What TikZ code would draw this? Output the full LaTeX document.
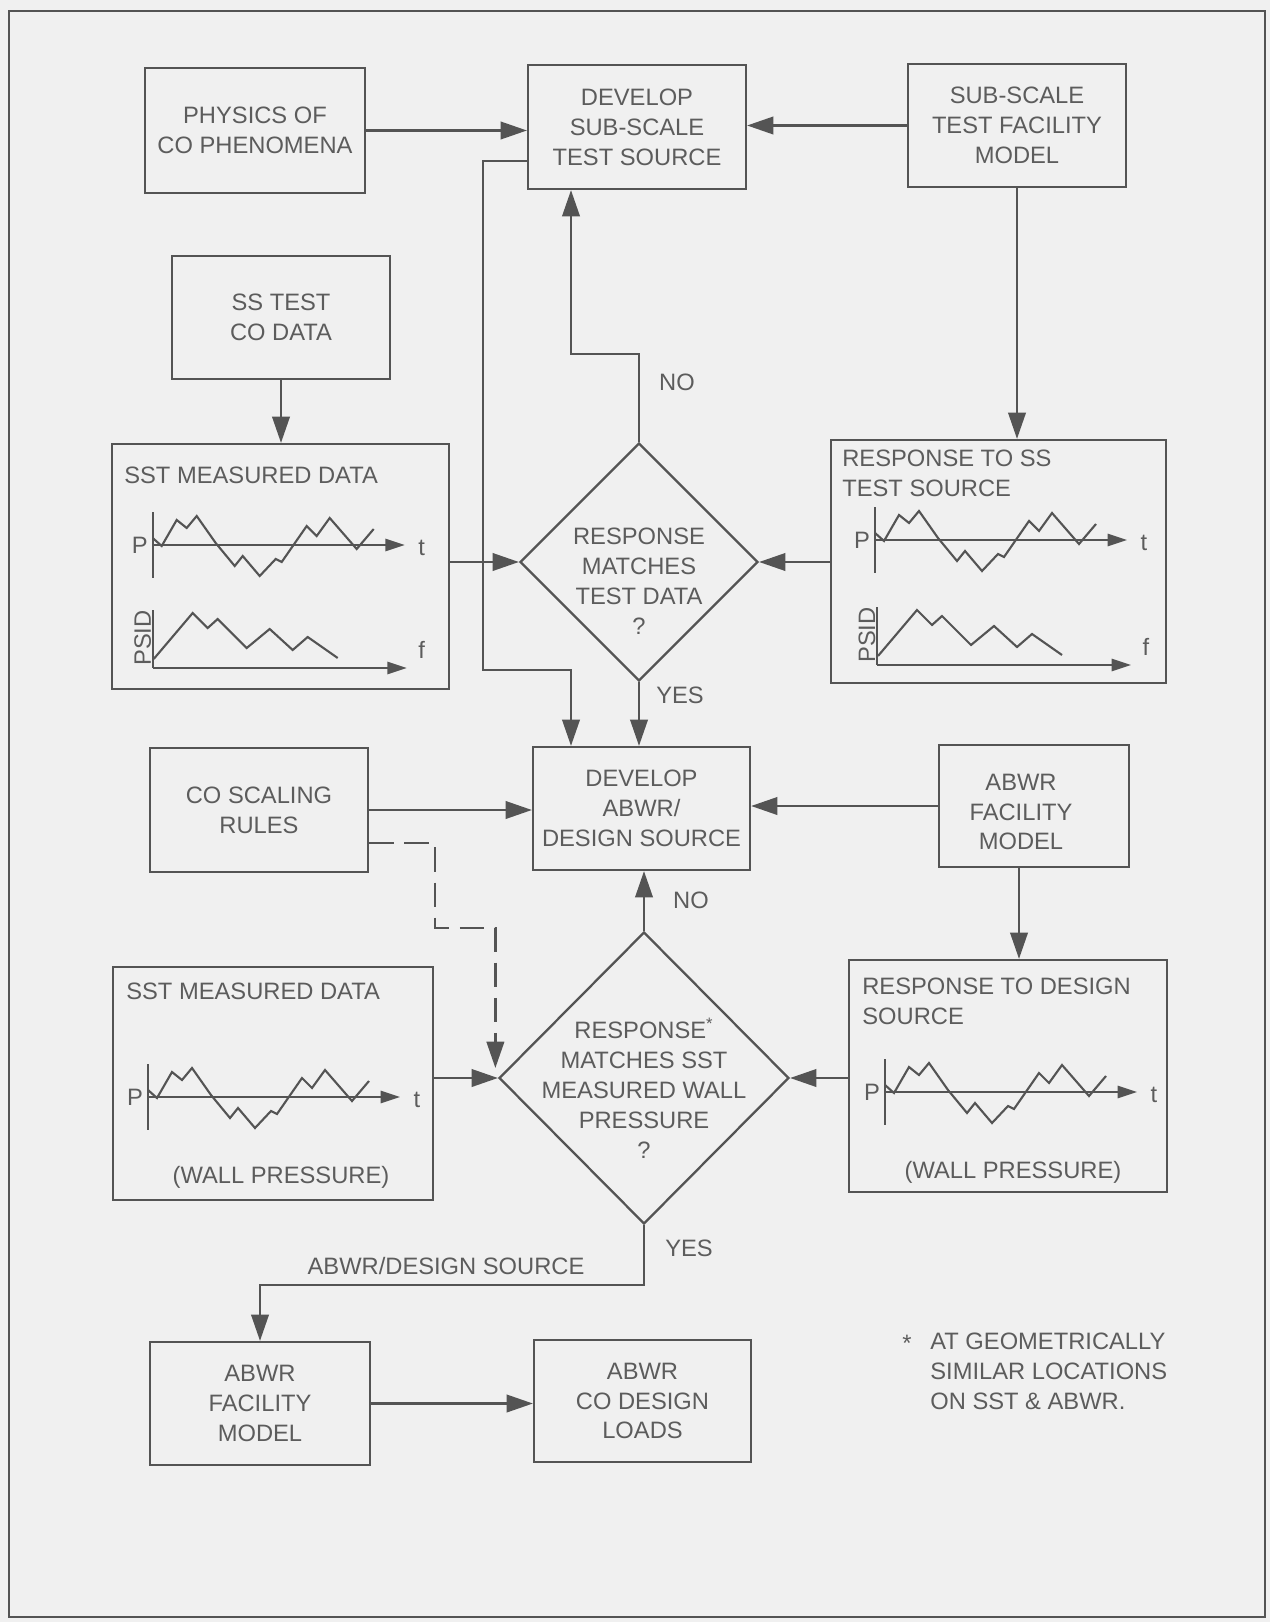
\documentclass[tikz,border=0pt]{standalone}
\usepackage{fontspec}
\setmainfont{Liberation Sans}
\usetikzlibrary{shapes.geometric,arrows.meta,calc}
\definecolor{bgc}{gray}{0.94}
\definecolor{linec}{gray}{0.33}
\definecolor{txtc}{gray}{0.36}
\newcommand{\ptplot}[3]{%
 \begin{scope}[shift={(#1,#2)}]
  \draw[axis] (0,-33) -- (0,33);
  \draw[axarr] (0,0) -- (252,0);
  \draw[wave] (0,-7) -- (9,1) -- (24,-25) -- (34,-17) -- (44,-29) -- (63,-2) -- (82,21) -- (90,11) -- (107,31) -- (123,14) -- (129,17) -- (154,-19) -- (164,-9) -- (177,-27) -- (204,4) -- (221,-16);
  \node[lab] (#3p) at (-13,0) {P};
  \node[lab] (#3t) at (269,3) {t};
 \end{scope}}
\newcommand{\psdplot}[3]{%
 \begin{scope}[shift={(#1,#2)}]
  \draw[axis] (0,-58) -- (0,0);
  \draw[axarr] (0,0) -- (254,0);
  \draw[wave] (1,-9) -- (40,-55) -- (55,-40) -- (65,-49) -- (94,-20) -- (117,-39) -- (140,-18) -- (155,-31) -- (185,-10);
  \node[lab, rotate=90] (#3s) at (-10,-30) {PSID};
  \node[lab] (#3f) at (269,-18) {f};
 \end{scope}}
\begin{document}
\begin{tikzpicture}[x=0.02cm,y=-0.02cm,
  font=\fontsize{13.5}{17}\selectfont,
  box/.style={draw=linec, line width=1.3pt, rectangle, inner sep=0pt, align=center, text=txtc},
  dia/.style={draw=linec, line width=1.3pt, diamond, aspect=1, inner sep=0pt},
  lab/.style={text=txtc, inner sep=0pt, align=center},
  arr/.style={draw=linec, line width=1.3pt, -{Triangle[length=15pt,width=10pt]}},
  dashline/.style={dash pattern=on 14pt off 6pt},
  axis/.style={draw=linec, line width=1pt},
  axarr/.style={draw=linec, line width=1pt, -{Triangle[length=11pt,width=7pt]}},
  wave/.style={draw=linec, line width=1.2pt, line join=miter},
]
\fill[bgc] (0,0) rectangle (1270,1622);
\draw[linec, line width=1.2pt] (9,11) rectangle (1265,1617);

% boxes
\node[box, minimum width=4.4cm, minimum height=2.5cm] (phys) at (255,130.5) {PHYSICS OF\\CO PHENOMENA};
\node[box, minimum width=4.36cm, minimum height=2.48cm] (devss) at (637,127) {DEVELOP\\SUB-SCALE\\TEST SOURCE};
\node[box, minimum width=4.36cm, minimum height=2.46cm] (ssfac) at (1017,125.5) {SUB-SCALE\\TEST FACILITY\\MODEL};
\node[box, minimum width=4.36cm, minimum height=2.46cm] (ssco) at (281,317.5) {SS TEST\\CO DATA};
\node[box, minimum width=6.74cm, minimum height=4.9cm] (sst1) at (280.5,566.5) {};
\node[box, minimum width=6.7cm, minimum height=4.86cm] (resp1) at (998.5,561.5) {};
\node[dia, minimum width=4.76cm, minimum height=4.76cm] (d1) at (639,562) {};
\node[lab] (d1t) at (639,581) {RESPONSE\\MATCHES\\TEST DATA\\?};
\node[box, minimum width=4.36cm, minimum height=2.48cm] (rules) at (259,810) {CO SCALING\\RULES};
\node[box, minimum width=4.34cm, minimum height=2.46cm] (devab) at (641.5,808.5) {DEVELOP\\ABWR/\\DESIGN SOURCE};
\node[box, minimum width=3.8cm, minimum height=2.44cm] (abfac) at (1034,806) {};
\node[lab] (abfact) at (1021,812) {ABWR\\FACILITY\\MODEL};
\node[dia, minimum width=5.8cm, minimum height=5.84cm] (d2) at (644,1078) {};
\node[lab] (d2t) at (644,1088) {RESPONSE\textsuperscript{*}\\MATCHES SST\\MEASURED WALL\\PRESSURE\\?};
\node[box, minimum width=6.4cm, minimum height=4.66cm] (sst2) at (273,1083.5) {};
\node[box, minimum width=6.36cm, minimum height=4.64cm] (resp2) at (1008,1076) {};
\node[box, minimum width=4.4cm, minimum height=2.46cm] (abfac2) at (260,1403.5) {ABWR\\FACILITY\\MODEL};
\node[box, minimum width=4.34cm, minimum height=2.44cm] (loads) at (642.5,1401) {ABWR\\CO DESIGN\\LOADS};

% data box contents
\node[lab, anchor=west] (t1) at (124,475) {SST MEASURED DATA};
\ptplot{152.7}{545}{a}
\psdplot{152.7}{668}{b}
\node[lab, anchor=west, align=left] (t2) at (842,473) {RESPONSE TO SS\\TEST SOURCE};
\ptplot{875}{540}{c}
\psdplot{877}{665}{d}
\node[lab, anchor=west] (t3) at (126,991) {SST MEASURED DATA};
\ptplot{148}{1097}{e}
\node[lab] (w3) at (281,1177) {(WALL PRESSURE)};
\node[lab, anchor=west, align=left] (t4) at (862,1001) {RESPONSE TO DESIGN\\SOURCE};
\ptplot{885}{1092}{g}
\node[lab] (w4) at (1013,1172) {(WALL PRESSURE)};

% connectors
\draw[arr] (phys.east) -- (phys.east -| devss.west);
\draw[arr] (ssfac.west) -- (ssfac.west -| devss.east);
\draw[arr] (ssfac.south) -- (ssfac.south |- resp1.north);
\draw[arr] (ssco.south) -- (ssco.south |- sst1.north);
\draw[arr] (sst1.east |- d1.west) -- (d1.west);
\draw[arr] (resp1.west |- d1.east) -- (d1.east);
\coordinate (nox) at (571,354);
\draw[arr] (d1.north) |- (nox) -- (nox |- devss.south);
\coordinate (fbt) at (483,161);
\coordinate (fbb) at (483,670);
\draw[arr] (fbt -| devss.west) -- (fbt) -- (fbb) -| (nox |- devab.north);
\draw[arr] (d1.south) -- (d1.south |- devab.north);
\draw[arr] (rules.east) -- (rules.east -| devab.west);
\draw[arr] (abfac.west) -- (abfac.west -| devab.east);
\coordinate (abx) at ([xshift=-0.3cm]abfac.south);
\draw[arr] (abx) -- (abx |- resp2.north);
\draw[arr] (d2.north) -- (d2.north |- devab.south);
\draw[arr] (sst2.east |- d2.west) -- (d2.west);
\draw[arr] (resp2.west |- d2.east) -- (d2.east);
\coordinate (ds0) at ([yshift=-0.66cm]rules.east);
\coordinate (ds1) at (435,928);
\coordinate (ds2) at ([xshift=-0.05cm,yshift=0.2cm]d2.west);
\draw[arr, dashline] (ds0) -| (ds1) -| (ds2);
\coordinate (yb) at (0,1285);
\draw[arr] (d2.south) -- (d2.south |- yb) -| (abfac2.north);
\draw[arr] (abfac2.east) -- (abfac2.east -| loads.west);

% labels
\node[lab] (no1) at (677,382) {NO};
\node[lab] (yes1) at (680,695) {YES};
\node[lab] (no2) at (691,900) {NO};
\node[lab] (yes2) at (689,1248) {YES};
\node[lab] (srcl) at (446,1266) {ABWR/DESIGN SOURCE};
\node[lab] (star) at (907,1343) {*};
\node[lab, anchor=west, align=left] (fn) at (930,1371) {AT GEOMETRICALLY\\SIMILAR LOCATIONS\\ON SST \& ABWR.};
\end{tikzpicture}
\end{document}
